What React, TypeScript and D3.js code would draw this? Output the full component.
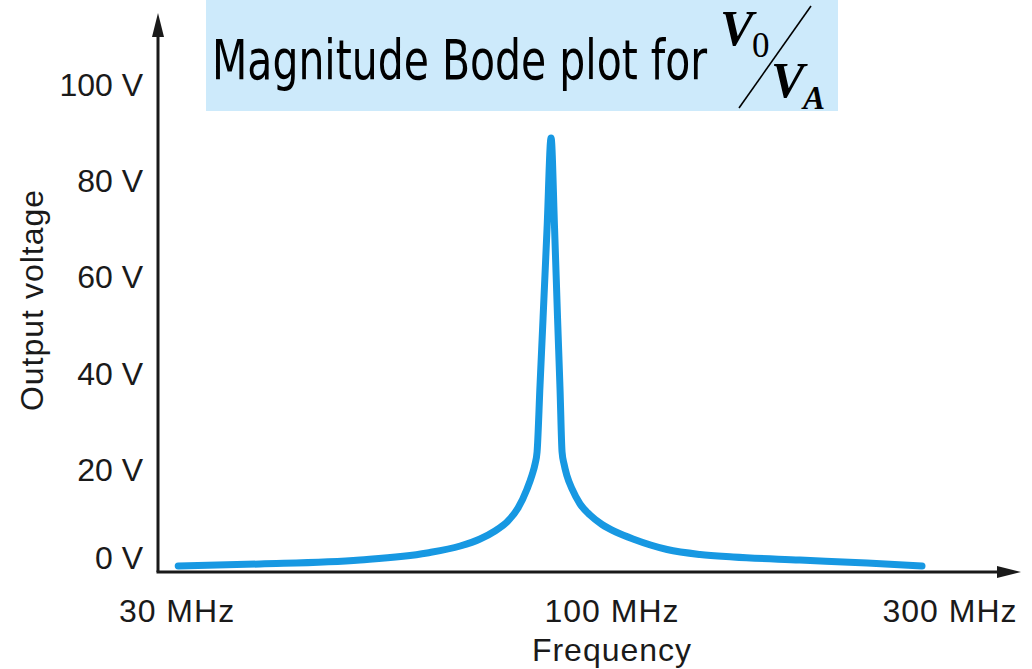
import React from "react";
import * as d3 from "d3";

// Data (frequency in MHz, output voltage in V)
const freqMHz = [
  30.1, 37.75, 49.8, 59.95, 65.7, 69.4, 72.34, 75.0, 77.1, 79.05, 80.15, 80.82, 81.27, 81.94, 82.63, 83.55,
  84.48,
  85.3, 86.01, 86.61, 87.09, 87.57, 88.3, 89.53, 91.54, 94.1, 97.28, 101.64, 107.07, 119.6, 133.1, 148.2, 184.2, 229.1, 273.9,
];
const voltage = [
  0.0, 0.41, 1.24, 2.7, 4.15, 5.6, 7.26, 9.34, 12.03, 15.98, 18.88, 21.16, 23.65, 37.55, 51.45, 70.12,
  88.8,
  70.12, 51.45, 36.51, 23.65, 21.16, 18.67, 15.98, 12.86, 10.58, 8.61, 6.95, 5.6, 3.42, 2.39, 1.87, 1.24, 0.62, 0.0,
];

const yTicks = [0, 20, 40, 60, 80, 100];
const yTickLabels = ["0 V", "20 V", "40 V", "60 V", "80 V", "100 V"];
const xTicks = [30, 100, 300];
const xTickLabels = ["30 MHz", "100 MHz", "300 MHz"];

const titleText = "Magnitude Bode plot for";
const xTitle = "Frequency";
const yTitle = "Output voltage";

const W = 1032;
const H = 669;

export default function App() {
  const x = d3.scaleLog().domain([30, 100, 300]).range([177, 612, 950]);
  const y = d3.scaleLinear().domain([0, 100]).range([566, 84]);

  const pts = freqMHz.map((f, i) => [f, voltage[i]] as [number, number]);
  const line = d3
    .line<[number, number]>()
    .x((d) => x(d[0]))
    .y((d) => y(d[1]))
    .curve(d3.curveMonotoneX);

  const axisX = 158;
  const axisY = 572;
  const labelFont = "'Liberation Sans', Arial, Helvetica, sans-serif";
  const serif = "'Liberation Serif', 'Times New Roman', serif";

  return (
    <svg
      width={W}
      height={H}
      style={{ position: "absolute", left: 0, top: 0, background: "#fff" }}
    >
      {/* Title box */}
      <rect x={206} y={0} width={632} height={111} fill="#cdeafb" />
      <text
        x={212}
        y={79}
        fontFamily="'DejaVu Sans Condensed', 'DejaVu Sans', sans-serif"
        fontSize={56}
        textLength={495}
        lengthAdjust="spacingAndGlyphs"
        fill="#000"
      >
        {titleText}
      </text>
      <text x={720} y={45} fontFamily={serif} fontSize={50} fontWeight="bold" fontStyle="italic" fill="#000">
        V
      </text>
      <text x={752} y={57} fontFamily={serif} fontSize={35} fill="#000">
        0
      </text>
      <line x1={811} y1={6} x2={739} y2={108} stroke="#000" strokeWidth={1.6} />
      <text x={771} y={97} fontFamily={serif} fontSize={50} fontWeight="bold" fontStyle="italic" fill="#000">
        V
      </text>
      <text x={803} y={109} fontFamily={serif} fontSize={33} fontWeight="bold" fontStyle="italic" fill="#000">
        A
      </text>

      {/* Axes */}
      <line x1={axisX} y1={axisY} x2={axisX} y2={36} stroke="#1a1a1a" strokeWidth={3} />
      <path d={`M${axisX},13 L${axisX - 6},37 L${axisX + 6},37 Z`} fill="#1a1a1a" />
      <line x1={axisX - 1.5} y1={axisY} x2={999} y2={axisY} stroke="#1a1a1a" strokeWidth={3} />
      <path d={`M1021,${axisY} L997,${axisY - 6} L997,${axisY + 6} Z`} fill="#1a1a1a" />

      {/* Y tick labels */}
      {yTicks.map((v, i) => (
        <text
          key={v}
          x={143}
          y={y(v) - (v === 0 ? 9 : 0)}
          dy="0.36em"
          textAnchor="end"
          fontFamily={labelFont}
          fontSize={32}
          fill="#1a1a1a"
        >
          {yTickLabels[i]}
        </text>
      ))}

      {/* X tick labels */}
      {xTicks.map((f, i) => (
        <text
          key={f}
          x={x(f)}
          y={622}
          textAnchor="middle"
          fontFamily={labelFont}
          fontSize={32}
          letterSpacing={1}
          fill="#1a1a1a"
        >
          {xTickLabels[i]}
        </text>
      ))}

      {/* Axis titles */}
      <text
        x={612}
        y={661}
        textAnchor="middle"
        fontFamily={labelFont}
        fontSize={32}
        letterSpacing={1}
        fill="#1a1a1a"
      >
        {xTitle}
      </text>
      <text
        transform={`translate(43,300) rotate(-90)`}
        textAnchor="middle"
        fontFamily={labelFont}
        fontSize={32}
        letterSpacing={1}
        fill="#1a1a1a"
      >
        {yTitle}
      </text>

      {/* Curve */}
      <path
        d={line(pts) || ""}
        fill="none"
        stroke="#1798e2"
        strokeWidth={7}
        strokeLinecap="round"
        strokeLinejoin="round"
      />
    </svg>
  );
}
